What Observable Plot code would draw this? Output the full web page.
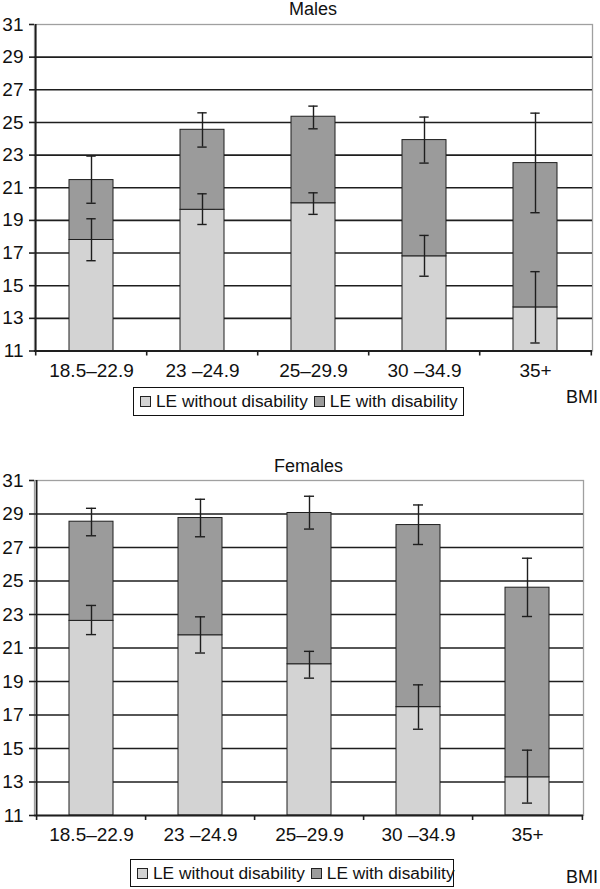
<!DOCTYPE html>
<html>
<head>
<meta charset="utf-8">
<script src="https://cdn.jsdelivr.net/npm/d3@7"></script>
<script src="https://cdn.jsdelivr.net/npm/@observablehq/plot@0.6"></script>
<style>
  body { margin: 0; background: #fff; font-family: "Liberation Sans", Arial, sans-serif; color: #111; }
  #page { position: relative; width: 600px; height: 889px; overflow: hidden; }
  .abs { position: absolute; }
  .title { font-size: 18px; line-height: 18px; text-align: center; }
  .bmi { font-size: 18px; line-height: 18px; }
  .legend { border: 1px solid #111; box-sizing: border-box; display: flex; align-items: center; font-size: 17.3px; white-space: nowrap; padding-left: 6px; overflow: visible; }
  .sw { display: inline-block; width: 9px; height: 9px; border: 1px solid #222; margin-right: 5px; flex: none; }
  .item { display: flex; align-items: center; margin-right: 6px; }
</style>
</head>
<body>
<div id="page"></div>
<script>
const categories = ["18.5–22.9", "23 –24.9", "25–29.9", "30 –34.9", "35+"];
const yTicks = [11, 13, 15, 17, 19, 21, 23, 25, 27, 29, 31];
const seriesNames = ["LE without disability", "LE with disability"];
const seriesColors = ["#d3d3d3", "#9b9b9b"];

// Males
const maleFree    = [17.80, 19.65, 20.05, 16.80, 13.67];
const maleFreeLo  = [16.53, 18.75, 19.37, 15.58, 11.49];
const maleFreeHi  = [19.10, 20.63, 20.69, 18.08, 15.86];
const maleTotal   = [21.47, 24.55, 25.35, 23.92, 22.51];
const maleTotalLo = [20.05, 23.49, 24.61, 22.51, 19.47];
const maleTotalHi = [22.94, 25.59, 26.00, 25.33, 25.57];

// Females
const femaleFree    = [22.62, 21.76, 20.03, 17.47, 13.28];
const femaleFreeLo  = [21.80, 20.70, 19.20, 16.15, 11.74];
const femaleFreeHi  = [23.54, 22.86, 20.80, 18.80, 14.90];
const femaleTotal   = [28.54, 28.76, 29.06, 28.34, 24.60];
const femaleTotalLo = [27.70, 27.64, 28.10, 27.18, 22.88];
const femaleTotalHi = [29.34, 29.88, 30.06, 29.54, 26.36];

function chart(o) {
  const rows = categories.map((c, i) => ({
    cat: c, free: o.free[i], freeLo: o.freeLo[i], freeHi: o.freeHi[i],
    total: o.total[i], totalLo: o.totalLo[i], totalHi: o.totalHi[i]
  }));
  const width = 600;
  const plotW = width - o.marginLeft - o.marginRight;
  const step = plotW / 5;
  const bw = step * 0.4;
  const capInset = (bw - 10) / 2;
  const ink = "#1e1e1e";
  return Plot.plot({
    width, height: o.height,
    marginLeft: o.marginLeft, marginRight: o.marginRight,
    marginTop: o.marginTop, marginBottom: o.marginBottom,
    style: { fontFamily: "'Liberation Sans', Arial, sans-serif", fontSize: "19px", color: "#111", background: "#fff" },
    x: { domain: categories, paddingInner: 0.6, paddingOuter: 0.3, axis: null, label: null },
    y: { domain: [11, 31], axis: null, label: null },
    marks: [
      Plot.frame({ stroke: "#a0a0a0", strokeWidth: 1.3 }),
      Plot.ruleY(yTicks.filter(t => t > 11 && t < 31), { stroke: ink, strokeWidth: 1.6 }),
      Plot.barY(rows, { x: "cat", y1: 11, y2: "free", fill: seriesColors[0], stroke: ink, strokeWidth: 1 }),
      Plot.barY(rows, { x: "cat", y1: "free", y2: "total", fill: seriesColors[1], stroke: ink, strokeWidth: 1 }),
      Plot.ruleX(rows, { x: "cat", y1: "freeLo", y2: "freeHi", stroke: ink, strokeWidth: 1.4 }),
      Plot.tickY(rows, { x: "cat", y: "freeLo", insetLeft: capInset, insetRight: capInset, stroke: ink, strokeWidth: 1.4 }),
      Plot.tickY(rows, { x: "cat", y: "freeHi", insetLeft: capInset, insetRight: capInset, stroke: ink, strokeWidth: 1.4 }),
      Plot.ruleX(rows, { x: "cat", y1: "totalLo", y2: "totalHi", stroke: ink, strokeWidth: 1.4 }),
      Plot.tickY(rows, { x: "cat", y: "totalLo", insetLeft: capInset, insetRight: capInset, stroke: ink, strokeWidth: 1.4 }),
      Plot.tickY(rows, { x: "cat", y: "totalHi", insetLeft: capInset, insetRight: capInset, stroke: ink, strokeWidth: 1.4 }),
      // axis lines
      Plot.ruleY([11], { stroke: ink, strokeWidth: 1.8 }),
      Plot.ruleX([categories[0]], { y1: 11, y2: 31, dx: -step / 2, stroke: ink, strokeWidth: 1.8 }),
      // y axis
      Plot.axisY({ ticks: yTicks, tickSize: 5, tickPadding: 6, tickFormat: d => String(d), label: null, stroke: ink, strokeWidth: 1.6, fill: "#111", fontSize: 19 }),
      // x labels (centered)
      Plot.axisX({ ticks: categories, tickSize: 0, tickPadding: 12, label: null, fill: "#111", fontSize: 19 }),
      // x ticks at band boundaries
      Plot.axisX({ ticks: categories, tickSize: 5, tickFormat: () => "", label: null, dx: -step / 2, stroke: ink, strokeWidth: 1.6 }),
      Plot.axisX({ ticks: [categories[4]], tickSize: 5, tickFormat: () => "", label: null, dx: step / 2, stroke: ink, strokeWidth: 1.6 })
    ]
  });
}

const page = document.getElementById("page");

function place(el, left, top, w, h) {
  el.classList.add("abs");
  el.style.left = left + "px";
  el.style.top = top + "px";
  if (w != null) el.style.width = w + "px";
  if (h != null) el.style.height = h + "px";
  page.appendChild(el);
  return el;
}

function legend(left, top, w, h) {
  const div = document.createElement("div");
  div.className = "legend";
  seriesNames.forEach((name, i) => {
    const item = document.createElement("span");
    item.className = "item";
    const sw = document.createElement("span");
    sw.className = "sw";
    sw.style.background = seriesColors[i];
    item.appendChild(sw);
    item.appendChild(document.createTextNode(name));
    div.appendChild(item);
  });
  place(div, left, top, w, h);
}

function text(cls, str, left, top, w) {
  const d = document.createElement("div");
  d.className = cls;
  d.textContent = str;
  place(d, left, top, w);
}

// Males
const svg1 = chart({
  free: maleFree, freeLo: maleFreeLo, freeHi: maleFreeHi,
  total: maleTotal, totalLo: maleTotalLo, totalHi: maleTotalHi,
  height: 385, marginTop: 24, marginBottom: 385 - 350.5, marginLeft: 34, marginRight: 8
});
place(svg1, 0, 0);
text("title", "Males", 34, 0, 558);
legend(133, 387, 331, 29);
text("bmi", "BMI", 566, 388);

// Females
const svg2 = chart({
  free: femaleFree, freeLo: femaleFreeLo, freeHi: femaleFreeHi,
  total: femaleTotal, totalLo: femaleTotalLo, totalHi: femaleTotalHi,
  height: 395, marginTop: 24, marginBottom: 395 - 24 - 335, marginLeft: 34, marginRight: 17
});
place(svg2, 0, 456);
text("title", "Females", 34, 457, 549);
legend(130, 859, 324, 28);
text("bmi", "BMI", 566, 868);
</script>
</body>
</html>
